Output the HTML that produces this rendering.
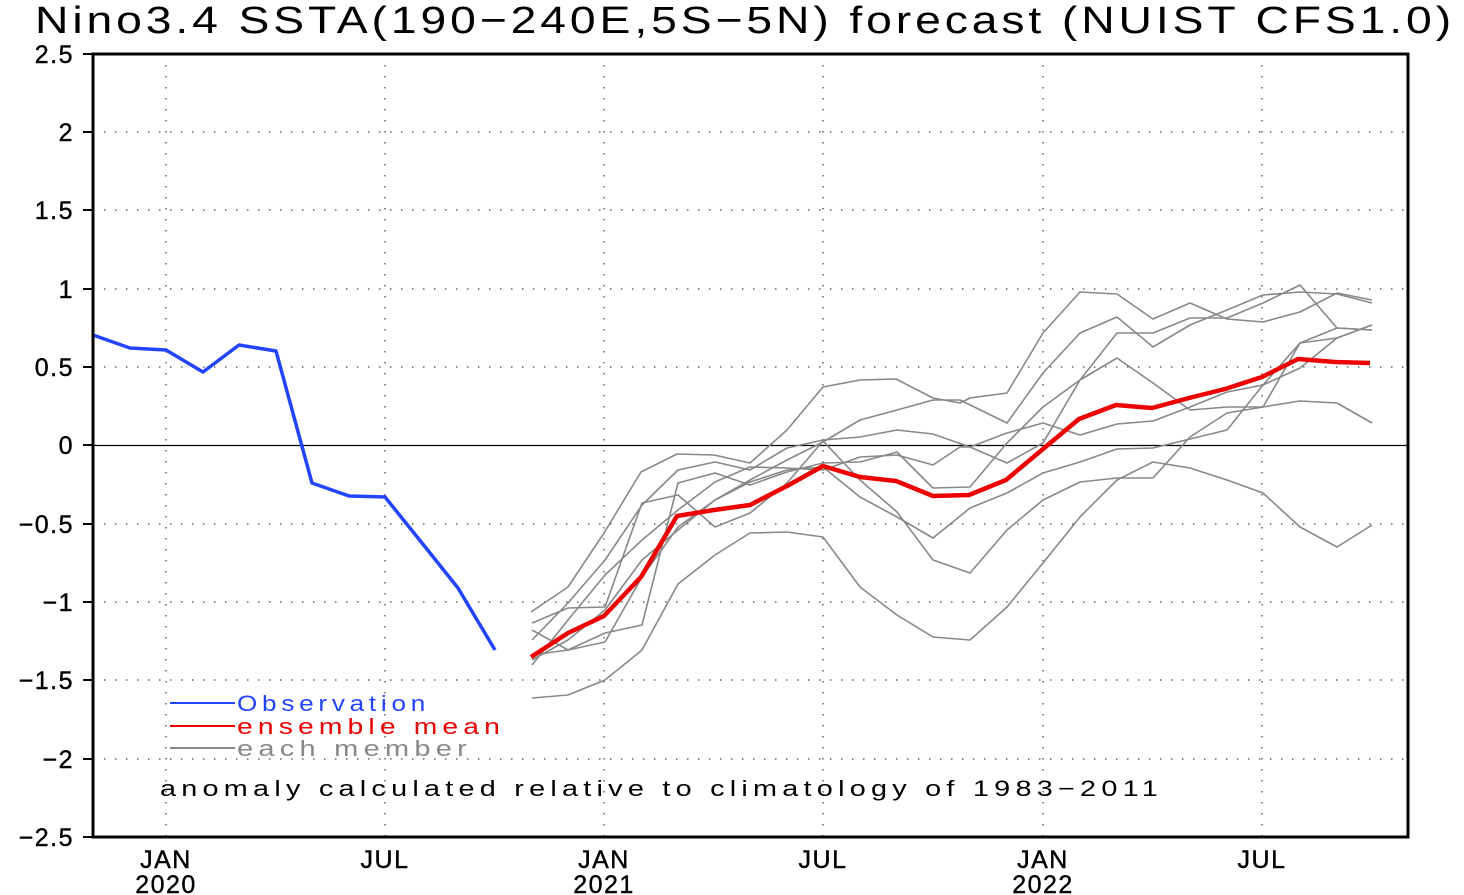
<!DOCTYPE html>
<html><head><meta charset="utf-8"><style>
html,body{margin:0;padding:0;background:#fff;}
svg{display:block;font-family:"Liberation Sans",sans-serif;}
</style></head><body>
<svg width="1464" height="895" viewBox="0 0 1464 895" xmlns="http://www.w3.org/2000/svg">
<rect width="1464" height="895" fill="#fff"/>
<text x="35" y="33" font-size="38" letter-spacing="3.2" textLength="1420" lengthAdjust="spacingAndGlyphs">Nino3.4  SSTA(190−240E,5S−5N)  forecast  (NUIST  CFS1.0)</text>
<g stroke="#666" stroke-width="1.5" stroke-dasharray="1.5,9.5" fill="none">
<path d="M93 132H1408M93 210H1408M93 289H1408M93 367H1408M93 524H1408M93 602H1408M93 680H1408M93 759H1408"/>
<path d="M166 54V837M385 54V837M604 54V837M823 54V837M1043 54V837M1262 54V837"/>
</g>
<line x1="93" y1="445.5" x2="1408" y2="445.5" stroke="#000" stroke-width="1.3"/>
<g stroke="#888" stroke-width="1.6" fill="none" stroke-linejoin="round">
<polyline points="531,612 568,587 604,533 641,472 677,454 714,455 750,463 787,430 823,387 860,380 896,379 933,398 960,403 970,398 1007,393 1043,333 1080,292 1117,294 1153,319 1190,303 1227,319 1263,322 1300,312 1337,293 1372,300"/>
<polyline points="532,623 568,608 605,607 642,503 678,495 715,527 750,513 787,483 823,441 860,480 897,512 933,560 970,573 1007,530 1043,500 1080,482 1117,478 1153,478 1190,437 1227,413 1263,407 1300,343 1337,328 1372,330"/>
<polyline points="532,698 568,695 605,680 642,650 678,584 715,555 750,533 787,532 823,537 860,587 897,615 933,637 970,640 1007,607 1043,563 1080,517 1117,480 1153,462 1190,468 1227,480 1263,493 1300,527 1337,547 1372,525"/>
<polyline points="532,655 568,650 605,642 642,577 678,527 715,500 750,482 787,470 823,467 860,497 897,517 933,538 970,508 1007,493 1043,473 1080,462 1117,449 1153,448 1190,439 1227,430 1263,385 1300,343 1337,338 1372,325"/>
<polyline points="532,630 568,650 605,633 642,625 678,483 715,473 750,485 787,472 823,463 860,462 897,452 933,488 970,487 1007,443 1043,407 1080,380 1117,358 1153,383 1190,410 1227,407 1263,407 1300,401 1337,403 1372,423"/>
<polyline points="532,665 568,620 605,575 642,540 678,510 715,482 750,467 787,468 823,470 860,457 897,455 933,465 960,447 970,447 1007,463 1043,443 1080,380 1117,333 1153,333 1190,318 1227,318 1263,303 1300,285 1337,328 1372,330"/>
<polyline points="532,640 568,603 605,560 642,505 678,470 715,462 750,470 787,448 823,440 860,437 897,430 933,434 970,447 1007,433 1043,423 1080,435 1117,424 1153,421 1190,407 1227,392 1263,385 1300,368 1337,338 1372,325"/>
<polyline points="532,660 568,640 605,610 642,560 678,530 715,500 750,480 787,460 823,442 860,420 897,410 933,400 960,400 1007,423 1043,373 1080,333 1117,317 1153,347 1190,325 1227,310 1263,295 1300,292 1337,294 1372,303"/>
</g>
<polyline fill="none" stroke="#2244ff" stroke-width="3.5" stroke-linejoin="round" points="93,335 130,348 166,350 203,372 239,345 276,351 312,483 349,496 385,497 422,543 458,588 495,650"/>
<polyline fill="none" stroke="#ee0000" stroke-width="4.5" stroke-linejoin="round" points="531,657 568,633 604,616 641,577 677,516 714,510 750,505 787,486 823,466 860,477 896,481 933,496 969,495 1006,480 1043,449 1079,419 1116,405 1152,408 1189,398 1225,389 1262,377 1298,359 1335,362 1370,363"/>
<rect x="93" y="54" width="1315" height="783" fill="none" stroke="#000" stroke-width="3"/>
<g font-size="25" text-anchor="end" letter-spacing="1.5" stroke="#000" stroke-width="0.4">
<text x="74" y="63">2.5</text><text x="74" y="141">2</text><text x="74" y="219">1.5</text><text x="74" y="298">1</text><text x="74" y="376">0.5</text><text x="74" y="454">0</text><text x="74" y="533">−0.5</text><text x="74" y="611">−1</text><text x="74" y="689">−1.5</text><text x="74" y="768">−2</text><text x="74" y="846">−2.5</text>
</g>
<g stroke="#000" stroke-width="2"><path d="M83 54H93M83 132H93M83 210H93M83 289H93M83 367H93M83 445H93M83 524H93M83 602H93M83 680H93M83 759H93M83 837H93"/></g>
<g font-size="25" text-anchor="middle" letter-spacing="1.5" stroke="#000" stroke-width="0.4">
<text x="166" y="868">JAN</text><text x="166" y="893">2020</text>
<text x="385" y="868">JUL</text>
<text x="604" y="868">JAN</text><text x="604" y="893">2021</text>
<text x="823" y="868">JUL</text>
<text x="1043" y="868">JAN</text><text x="1043" y="893">2022</text>
<text x="1262" y="868">JUL</text>
</g>
<line x1="170" y1="703" x2="235" y2="703" stroke="#2244ff" stroke-width="2"/>
<line x1="170" y1="726" x2="235" y2="726" stroke="#ee0000" stroke-width="2"/>
<line x1="170" y1="748" x2="235" y2="748" stroke="#888" stroke-width="2"/>
<g font-size="22" letter-spacing="4">
<text x="237" y="711" fill="#2244ff" textLength="193" lengthAdjust="spacingAndGlyphs">Observation</text>
<text x="237" y="734" fill="#ee0000" textLength="268" lengthAdjust="spacingAndGlyphs">ensemble  mean</text>
<text x="237" y="756" fill="#888" textLength="235" lengthAdjust="spacingAndGlyphs">each  member</text>
<text x="160" y="796" fill="#000" textLength="1003" lengthAdjust="spacingAndGlyphs">anomaly  calculated  relative  to  climatology  of  1983−2011</text>
</g>
</svg>
</body></html>
